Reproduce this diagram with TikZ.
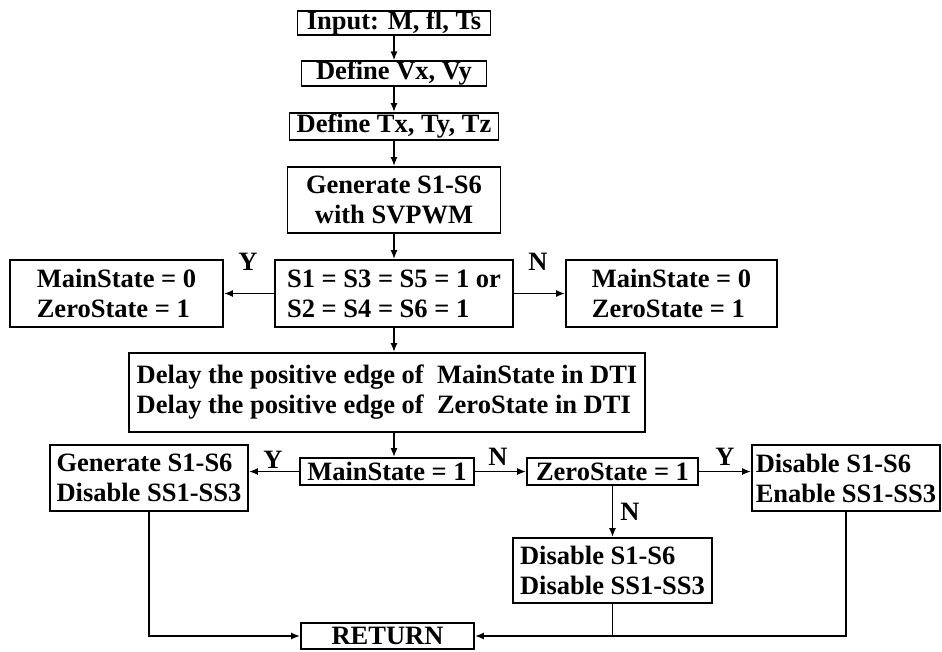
\documentclass[tikz,border=0pt]{standalone}
\usepackage{fontspec}
\setmainfont{Liberation Serif}
\usetikzlibrary{arrows.meta,positioning}

\begin{document}
\begin{tikzpicture}[
  x=1pt, y=-1pt,
  every node/.style={font=\fontsize{26.5}{30}\selectfont\bfseries, inner sep=0pt},
  box/.style={draw, line width=1.7pt, align=left},
  arr/.style={line width=1.7pt, -{Latex[length=9pt,width=7pt]}}
]
  \useasboundingbox (0,0) rectangle (942,651);

  \node[box,minimum width=193,minimum height=24] (in)   at (394,23)    {Input: M, fl, Ts};
  \node[box,minimum width=185,minimum height=23] (vxy)  at (394,73.5)  {Define Vx, Vy};
  \node[box,minimum width=209,minimum height=27] (txyz) at (394,126.5) {Define Tx, Ty, Tz};
  \node[box,align=center,minimum width=213,minimum height=66] (gen) at (394,200) {Generate S1-S6\\with SVPWM};

  \node[box,minimum width=238,minimum height=67] (cond) at (394,293.5)   {S1 = S3 = S5 = 1 or\\S2 = S4 = S6 = 1};
  \node[box,minimum width=213,minimum height=67] (mz1)  at (116.5,293.5) {MainState = 0\\ZeroState = 1};
  \node[box,minimum width=211,minimum height=67] (mz2)  at (671.5,293.5) {MainState = 0\\ZeroState = 1};

  \node[box,minimum width=516,minimum height=79] (delay) at (387,392.5)
    {Delay the positive edge of\ \ MainState in DTI\\Delay the positive edge of\ \ ZeroState in DTI};

  \node[box,minimum width=174,minimum height=27] (ms)   at (387,471.5)  {MainState = 1};
  \node[box,minimum width=171,minimum height=27] (zs)   at (612.5,471.5) {ZeroState = 1};
  \node[box,minimum width=198,minimum height=66] (gen2) at (149,478)    {Generate S1-S6\\Disable SS1-SS3};
  \node[box,minimum width=188,minimum height=66] (en)   at (846,478)    {Disable S1-S6\\Enable SS1-SS3};
  \node[box,minimum width=199,minimum height=65] (dis)  at (612.5,570.5) {Disable S1-S6\\Disable SS1-SS3};
  \node[box,minimum width=173,minimum height=26] (ret)  at (387.5,636)  {RETURN};

  \node (y1) at (248,262) {Y};
  \node (n1) at (538,262) {N};
  \node (y2) at (273,460) {Y};
  \node (n2) at (498,457) {N};
  \node (y3) at (725,457) {Y};
  \node (n3) at (630,512) {N};

  \draw[arr] (in) -- (vxy);
  \draw[arr] (vxy) -- (txyz);
  \draw[arr] (txyz) -- (gen);
  \draw[arr] (gen) -- (cond);
  \draw[arr] (cond) -- (mz1);
  \draw[arr] (cond) -- (mz2);
  \draw[arr] (cond.south) -- (cond.south |- delay.north);
  \draw[arr] (delay.south -| cond.south) -- (cond.south |- ms.north);
  \draw[arr] (ms.west) -- (ms.west -| gen2.east);
  \draw[arr] (ms) -- (zs);
  \draw[arr] (zs.east) -- (zs.east -| en.west);
  \draw[arr] (zs) -- (dis);
  \draw[arr] (gen2.south) |- (ret.west);
  \draw[arr] (en.south) |- (ret.east);
  \draw[line width=1.7pt] (dis.south) -- (dis.south |- ret.east);
\end{tikzpicture}
\end{document}
